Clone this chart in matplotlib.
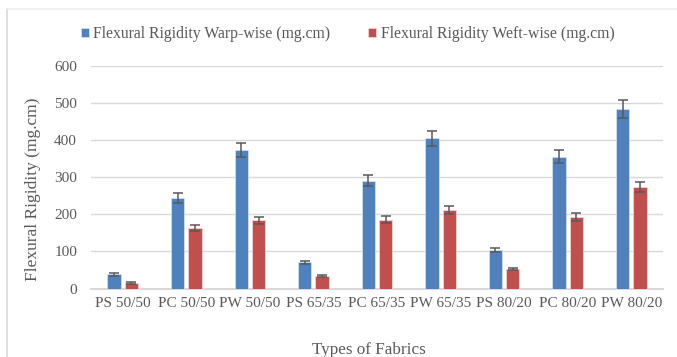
import matplotlib
matplotlib.use("Agg")
import matplotlib.pyplot as plt
import numpy as np
from matplotlib.lines import Line2D

plt.rcParams['font.family'] = ['Liberation Serif', 'DejaVu Serif']

fabrics = ["PS 50/50", "PC 50/50", "PW 50/50", "PS 65/35", "PC 65/35",
           "PW 65/35", "PS 80/20", "PC 80/20", "PW 80/20"]
warp = [39, 243, 373, 71, 290, 404, 104, 355, 483]
weft = [15, 162, 184, 34, 185, 211, 53, 192, 274]
warp_err = [4, 13, 19, 4, 15, 21, 5, 18, 24]
weft_err = [2, 8, 9, 2, 9, 11, 3, 10, 14]
yticks = [0, 100, 200, 300, 400, 500, 600]

blue = "#4F81BD"
red = "#C0504D"
text_col = "#595959"

fig = plt.figure(figsize=(6.77, 3.57), dpi=100)
ax = fig.add_axes([91/677, 68.5/357, 572/677, 222.8/357])

x = np.arange(len(fabrics))
w = 0.21
off = 0.137
ax.bar(x - off, warp, w, color=blue, edgecolor="#dbe5f1", linewidth=0.5,
       label="Flexural Rigidity Warp-wise (mg.cm)", zorder=3)
ax.bar(x + off, weft, w, color=red, edgecolor="#f2dcdb", linewidth=0.5,
       label="Flexural Rigidity Weft-wise (mg.cm)", zorder=3)
ax.errorbar(x - off, warp, yerr=warp_err, fmt="none", ecolor="#595959",
            elinewidth=1.1, capsize=3.3, capthick=1.1, zorder=4)
ax.errorbar(x + off, weft, yerr=weft_err, fmt="none", ecolor="#595959",
            elinewidth=1.1, capsize=3.3, capthick=1.1, zorder=4)

ax.set_xlim(-0.5, len(fabrics) - 0.5)
ax.set_ylim(0, 600)
ax.set_yticks(yticks)
ax.set_xticks(x)
ax.set_xticklabels(fabrics)
ax.yaxis.grid(True, color="#d9d9d9", linewidth=1.0, zorder=0)
ax.set_axisbelow(True)
for s in ["top", "right", "left"]:
    ax.spines[s].set_visible(False)
ax.spines["bottom"].set_color("#d9d9d9")
ax.spines["bottom"].set_linewidth(1.5)
ax.tick_params(axis="both", length=0, colors=text_col)
ax.tick_params(axis="y", labelsize=11, pad=10)
ax.tick_params(axis="x", labelsize=11, pad=6)

ax.set_ylabel("Flexural Rigidity (mg.cm)", color=text_col, fontsize=12.5)
ax.yaxis.set_label_coords(-0.088, 0.447)
ax.set_xlabel("Types of Fabrics", color=text_col, fontsize=12.3, va="baseline")
ax.xaxis.set_label_coords(0.486, -0.296)

fig.legend(loc="center", bbox_to_anchor=(347.5/677, 1 - 34.5/357), ncol=2,
           frameon=False, fontsize=11.3, handlelength=0.5, handleheight=0.5,
           handletextpad=0.3, columnspacing=2.4, labelcolor=text_col)

# chart area border
fig.add_artist(Line2D([6.5/677, 6.5/677], [0, 1 - 8.5/357], transform=fig.transFigure,
                      color="#d9d9d9", linewidth=1.2))
fig.add_artist(Line2D([6.5/677, 1], [1 - 8.5/357, 1 - 8.5/357], transform=fig.transFigure,
                      color="#f0f0f0", linewidth=1.2))

fig.savefig("out.png", dpi=100)
